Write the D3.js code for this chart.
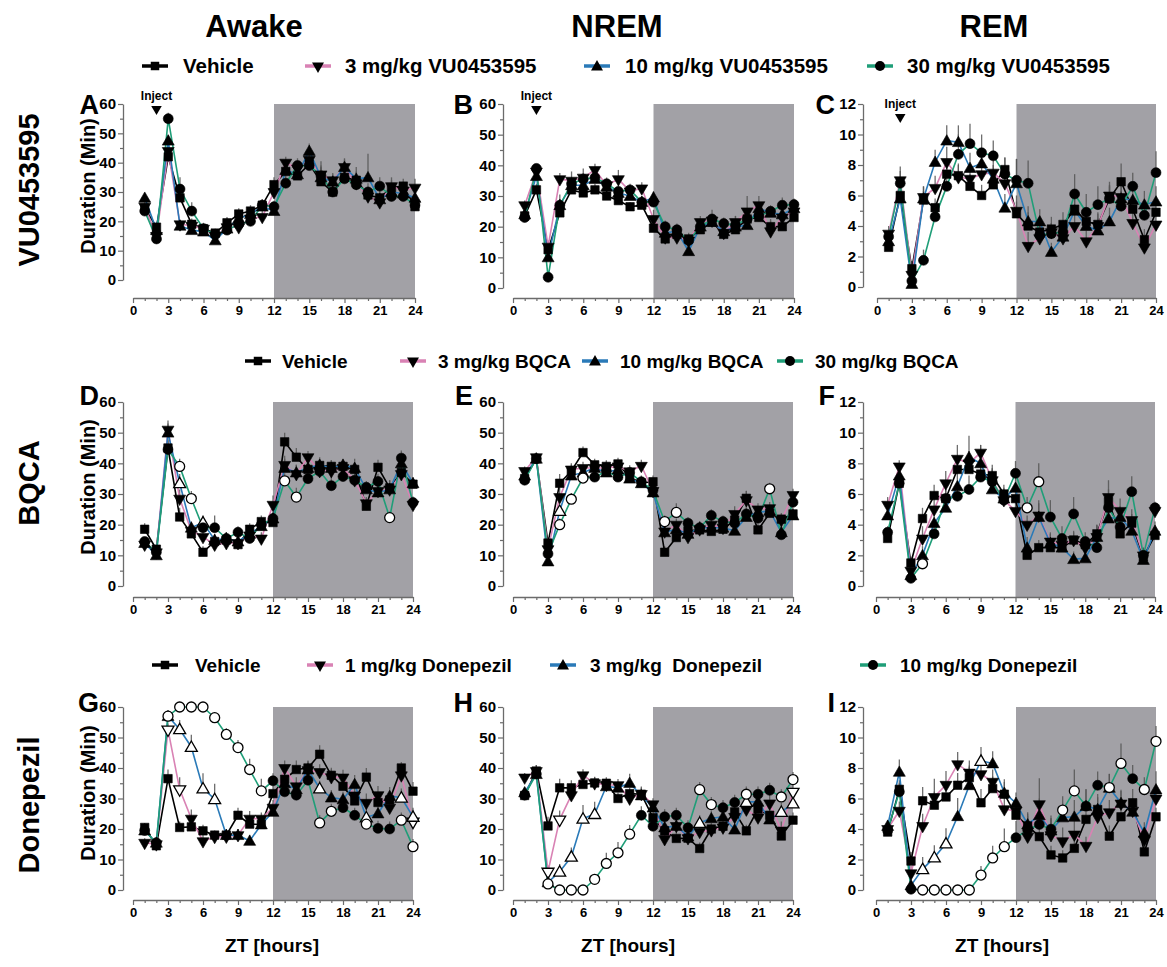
<!DOCTYPE html>
<html>
<head>
<meta charset="utf-8">
<script src="https://cdn.jsdelivr.net/npm/d3@7"></script>
<style>
  body { margin: 0; background: #fff; }
  svg { display: block; }
  text { font-family: "Liberation Sans", Arial, Helvetica, sans-serif; font-weight: bold; fill: #000; }
</style>
</head>
<body>
<svg id="chart" width="1167" height="967"></svg>
<script>
// ---------- labels ----------
const stateTitles = ["Awake", "NREM", "REM"];
const drugNames = ["VU0453595", "BQCA", "Donepezil"];
const legendVU = ["Vehicle", "3 mg/kg VU0453595", "10 mg/kg VU0453595", "30 mg/kg VU0453595"];
const legendBQCA = ["Vehicle", "3 mg/kg BQCA", "10 mg/kg BQCA", "30 mg/kg BQCA"];
const legendDon = ["Vehicle", "1 mg/kg Donepezil", "3 mg/kg  Donepezil", "10 mg/kg Donepezil"];
const panelLetters = ["A", "B", "C", "D", "E", "F", "G", "H", "I"];
const hours = [1,2,3,4,5,6,7,8,9,10,11,12,13,14,15,16,17,18,19,20,21,22,23,24];
const xTicks = [0,3,6,9,12,15,18,21,24];
const xMinorTicks = [1,2,4,5,7,8,10,11,13,14,16,17,19,20,22,23];
const yTicksMin = [0,10,20,30,40,50,60];
const yMinorMin = [5,15,25,35,45,55];
const yTicksRem = [0,2,4,6,8,10,12];
const yMinorRem = [1,3,5,7,9,11];
const darkPhase = [12, 24];
const injectHour = 2;

// ---------- A: VU0453595, Awake (min) ----------
const A_veh  = [24.5,18,42,28,19,17.5,16,19.5,22.5,23.5,25.5,32.5,37,35.5,39.5,33.5,30,35,34,29,28,31.5,32,25];
const A_low  = [25,15,44,19,18.5,17.5,15,18,18,21,21.5,30,40,38,41,36,34,38.5,33,28.5,26.5,32,30.5,31.5];
const A_mid  = [28,17,47.5,18.5,17,16.5,13.5,17.5,21,22.5,25,23.5,37.5,36,44,35,33.5,38.5,34.5,35,27.5,30,29.5,28];
const A_high = [23.5,14,55,31,23.5,17.5,15.5,17,19,20,25.5,25,33,39,39,35.5,30,34.5,32.5,30,32,28.5,28.5,25.5];
const A_vehErr  = [1.5,1.5,3,3,2,1.5,1.5,2,2,2,2,2.5,3,2.5,3,7,2.5,2.5,3,3,3,2.5,2.5,1.5];
const A_lowErr  = [1.5,1.5,3,1.5,1.5,1.5,1.5,3,2,2,2,2,2,2,2.5,3,2.5,2.5,2.5,2.5,3,3,3,3];
const A_midErr  = [1.5,1.5,2,1.5,1.5,1.5,1.5,1.5,1.5,2,2,2,3,2,2.5,3,2.5,3,4,8,3,2.5,2.5,2];
const A_highErr = [1.5,1.5,2,4,3,2,1.5,2,2,2,2,2,3,2.5,2.5,3,3,3,3,3,3,4,2.5,2];

// ---------- B: VU0453595, NREM (min) ----------
const B_veh  = [23.5,32,12.5,24.5,32,31,32,30,28.5,26.5,27,19.5,16,17.5,16,19,21.5,17.5,19,22.5,23,20,20,23];
const B_low  = [27,38,13.5,35.5,35,36,38.5,33.5,35.5,31.5,32.5,22.5,16.5,16.5,15.5,21.5,22,18,21.5,25,27,18.5,23,25];
const B_mid  = [24,36.5,10,27,33.5,33.5,35.5,33,31,30,28,29.5,18,18.5,12,20,21.5,18.5,20,20.5,26,24.5,24,26];
const B_high = [23,39,3.5,27,34,35.5,36,34,31.5,32,28,28,20,19,15.5,20,22.5,21,20.5,22.5,23.5,25,27,27.2];
const B_vehErr  = [1.5,2,2,2,2,2,2,1.5,1.5,1.5,2,2,2,2,2,2,2,2,2,2,2.5,2,2,2];
const B_lowErr  = [1.5,2,2,2,3,3,2,2,3,2,2,3,2,2,2,2,2,2,2,5,3,4,2,2];
const B_midErr  = [1.5,2,2,2,2,2,2,2,2,2,2,2,2,2,2,2,2,2,2,2,2,2,2,2];
const B_highErr = [1.5,1.5,2,3.5,2,2,2,2,2,2,2,3,2,2,2,2,3,2,3,2,3,2,2.5,2];

// ---------- C: VU0453595, REM (min) ----------
const C_veh  = [2.6,6.0,1.2,5.7,5.2,7.4,7.3,6.6,6.0,6.7,7.7,4.8,4.0,3.6,3.8,4.1,5.1,4.3,4.1,5.8,6.9,5.1,3.1,4.9];
const C_low  = [3.5,7.0,0.8,5.9,6.5,8.2,7.2,7.1,7.4,7.5,6.8,5.0,2.7,3.2,3.6,3.2,4.0,3.0,4.0,6.0,5.9,4.2,2.6,4.1];
const C_mid  = [3.0,5.8,0.2,5.8,8.2,9.6,9.5,7.8,8.1,7.1,5.2,6.8,4.3,4.3,2.3,3.3,5.0,4.0,3.7,4.3,5.8,5.7,5.4,5.6];
const C_high = [3.3,6.8,0.4,1.75,4.6,6.6,8.7,9.4,8.8,8.6,7.4,7.0,6.8,3.4,3.5,3.6,6.1,4.9,5.4,5.8,5.3,6.6,4.7,7.5];
const C_vehErr  = [0.5,0.8,0.5,0.6,0.6,0.7,0.7,0.8,0.7,0.7,0.8,0.8,0.9,0.8,0.8,0.8,0.9,0.8,0.8,0.8,1.2,0.8,0.7,0.7];
const C_lowErr  = [0.5,0.9,0.4,0.7,0.8,1.0,0.9,0.9,0.9,0.9,1.0,1.0,0.9,0.8,0.6,0.7,0.8,0.7,0.8,0.9,0.9,0.8,0.6,0.8];
const C_midErr  = [0.5,0.8,0.4,0.8,0.8,1.0,1.1,1.0,1.0,0.9,0.9,1.6,1.0,0.8,0.6,0.8,1.2,0.9,0.8,0.9,1.2,0.9,0.9,1.0];
const C_highErr = [0.5,0.8,0.3,0.7,0.8,1.2,1.3,1.3,1.2,1.0,1.1,1.4,1.5,0.9,0.7,0.8,1.3,1.2,1.2,0.9,1.0,0.9,0.8,1.4];

// ---------- D: BQCA, Awake (min) ----------
const D_veh  = [18.5,12,45,22.5,17,11,14.5,15,13.5,18.5,21,20.7,47,42,38,39.3,39,39,38,26,38.7,32,37,33.2];
const D_low  = [13.5,11,51,28.5,18,16,13.5,14,14,16.5,15.5,26.5,39.5,36.5,42,37.5,37.5,38.5,34.5,27,31,31.5,36.5,26.5];
const D_mid  = [14,10,50,33.5,19,20.7,15,15.5,14.5,17,19.5,22,38.5,37,38.5,39.5,38.5,39.5,38.5,31.5,30.5,31.5,40,33.5];
const D_high = [14.5,11,44.5,39,28.5,19,19,15.5,17.5,15.5,20,22,34.3,29,35,37.4,32.7,35.7,34.5,32.2,34.1,22.3,41.7,27.2];
const D_vehErr  = [2,1.5,3,3,2,2,2,2,2,2,2,2,3,3,2,2,2,2,2,2.5,2.5,2.5,2.5,2];
const D_lowErr  = [1.5,1.5,3,3,2,2,2,2,2,2,2,3,3,3,2,2,2,2,2,2,2,3,3,2];
const D_midErr  = [1.5,1.5,3,3,2,2,2,2,2,2,2,2,3,2.5,2,2.5,2.5,2,3,2,2,2,2,2];
const D_highErr = [1.5,1.5,3,2.5,2.5,4,4,2,2,2,2,2,2.5,3,2.5,2.5,3,2,3,2,2.5,2,2.5,2];
const D_midOpen = [4,6];
const D_highOpen = [4,5,13,14,22];

// ---------- E: BQCA, NREM (min) ----------
const E_veh  = [35,41.5,14,33.5,37.5,43.5,39.5,39,39.8,35.5,33.6,34,11,15.8,18,18.3,17.8,18.5,21.5,28.6,18.3,23.7,21.8,23.5];
const E_low  = [37.5,42,12,29,38,38.5,38.5,38.5,39,37.4,39.2,31,17.8,20,16,18.5,20,19,23.5,28,25,25.4,21.5,29.7];
const E_mid  = [36,41.5,8,24.5,36,37,38.5,37,38,35,33.5,30.5,17.5,18.5,17,19,19,19,18,22.5,24,24.5,17.5,23];
const E_high = [34.5,41.5,10.5,20,28.3,35.2,35.5,37.5,35.5,37,34,31.2,21,24,20.5,19,23,21,20.5,23.5,22.1,31.7,16.7,27.3];
const E_vehErr  = [1.5,1.5,2,3,2,2,2,2,2,2,2,2,2,2,2,2,2,2,2,2.5,2,2,2,2];
const E_lowErr  = [1.5,1.5,2,3,2,2,2,2,2,2,2,2,2,2,2,2,2,2,2.5,3,2,2,2,2];
const E_midErr  = [1.5,1.5,2,2,2,2,2,2,2,2,2,2,2,2,2,2,2,2,2,4,2,2,2,2];
const E_highErr = [1.5,1.5,2,2,2,2,2,2,2,2,2,2,2,3,2,2,2,2,2,2,2,2,2,2];
const E_midOpen = [4];
const E_highOpen = [4,5,6,13,14,22];

// ---------- F: BQCA, REM (min) ----------
const F_veh  = [3.1,6.7,1.5,4.4,5.9,5.7,7.6,7.6,7.3,7.2,6.0,5.7,2.0,2.5,2.5,2.5,3.0,2.7,3.4,5.5,3.4,4.1,1.9,3.3];
const F_low  = [5.3,7.8,1.0,3.1,5.0,6.7,8.3,8.0,8.7,6.9,5.6,4.9,4.0,4.6,2.9,2.7,3.0,2.5,3.2,5.8,4.9,4.3,2.0,4.9];
const F_mid  = [4.6,7.2,0.7,2.0,4.1,5.1,6.5,8.4,8.0,6.3,5.7,6.4,2.5,4.5,2.8,2.5,1.75,1.8,3.2,4.4,4.5,3.6,1.7,3.6];
const F_high = [3.5,6.7,0.5,1.45,3.4,5.7,5.85,6.3,7.1,6.8,5.6,7.35,5.1,6.8,4.5,3.1,4.7,2.9,2.5,5.1,3.85,6.15,2.0,5.1];
const F_vehErr  = [0.4,0.6,0.4,0.7,0.7,0.6,0.7,0.6,0.6,0.7,0.6,0.6,0.5,0.5,0.5,0.4,0.5,0.4,0.6,0.8,0.6,0.6,0.4,0.5];
const F_lowErr  = [0.5,0.4,0.4,0.8,0.8,0.8,0.9,0.8,0.5,0.8,0.8,0.8,0.6,1.0,0.6,0.5,0.6,0.5,0.7,1.1,0.8,0.7,0.5,0.5];
const F_midErr  = [0.4,0.6,0.3,0.6,0.6,0.7,0.9,1.4,1.2,0.8,0.6,0.7,0.7,0.9,0.6,0.5,0.5,0.5,0.8,0.9,0.7,0.6,0.4,0.6];
const F_highErr = [0.4,0.6,0.3,0.5,0.6,0.7,0.8,0.9,0.8,0.8,0.7,0.8,0.7,1.2,1.1,0.8,1.1,0.6,0.6,0.8,0.6,1.0,0.5,0.4];
const F_highOpen = [4,13,14];

// ---------- G: Donepezil, Awake (min) ----------
const G_veh  = [20.5,14.5,36.5,20.5,20.7,19.4,18,18,24.5,21.6,21.5,31.6,36.3,39.5,40,44.5,37.6,34,29.2,37,28.7,29.5,40,32.4];
const G_low  = [15.5,15,52.6,33,23.4,16,17.4,17.5,18,23.4,23.4,27,40,34,39.3,38.7,37,36.9,31,28.6,31.1,27,37.6,22.4];
const G_mid  = [19.5,15.5,57,52.7,46.9,33.3,29.8,18,18,16.1,21.5,25.6,35,33,39.5,33.3,30.3,29.7,34.7,23.8,25.1,30.8,30.3,24];
const G_high = [19.5,15.5,57,60,60,60,56.5,51,46.7,39.5,32.5,35.8,32.2,31.1,36,22,25.8,27,24.5,21.6,20.2,20,22.9,14.2];
const G_vehErr  = [1.5,1.5,3,2,2,2,1.5,2,2.5,2.5,3,3,3,3,2.5,3,2.5,3,3,3,3,3,2,3];
const G_lowErr  = [1.5,1.5,2,4,3,2,1.5,2,2,2.5,2,2.5,2.5,3,3,2.5,2.5,2.5,3,3,3,3,2.5,3];
const G_midErr  = [1.5,1.5,1.5,3,4,5,5,2,2,2,2,2,2.5,2.5,2.5,2.5,2.5,2.5,3,3,3,3,3,3];
const G_highErr = [1.5,1.5,1.5,0.3,0.3,0.5,1.5,2,2.5,3.5,4,2.5,2.5,2.5,3,2.5,2.5,2.5,2.5,2.5,2.5,2.5,2.5,2.5];
const G_lowOpen = [3,4,24];
const G_midOpen = [4,5,6,7,16,20,23,24];
const G_highOpen = [3,4,5,6,7,8,9,10,11,16,17,20,23,24];

// ---------- H: Donepezil, NREM (min) ----------
const H_veh  = [31,39,21,33.5,33.5,34.6,35.1,35,30,31.6,31.4,23.7,19.4,16.9,17,13.6,20,20.9,25.6,19.4,26.5,24.5,17.7,22.9];
const H_low  = [36.9,39,6,23.1,31.1,37.6,35,34.5,34.4,30,31.5,28.1,16.7,21,17,19.1,19.6,20.5,24,26.4,23.8,28.4,19.5,32.2];
const H_mid  = [32,38,2.5,6,10.9,23.4,24.9,34,33.5,35.1,31,27,20.5,21,17.5,22,23.5,24,19.8,28.9,28.9,23.1,25.6,28.4];
const H_high = [31.1,38,2,0,0,0,3.5,8.7,12.2,18.3,24.5,20.9,24,24.5,20.4,32.9,28,27,28.7,31.4,31.4,32.7,30.5,36.2];
const H_vehErr  = [1.5,2,3,3,2.5,2,2,2,2,2,2.5,2.5,2,2,2,2,2,2.5,3,2,3,3,2.5,2.5];
const H_lowErr  = [1.5,2,2,3,3,2,2,2,2,2,2,2,2,2,2,2,2,2,3,3,3,3,3,3];
const H_midErr  = [1.5,2,2,2.5,3,4.5,4,2,2,3,2,2,2,2,2,2.5,2.5,2.5,2.5,3,3,3,3,3];
const H_highErr = [1.5,2,1,0.3,0.3,0.3,1.5,3.5,3.5,3,3,2.5,2.5,2.5,2.5,2.5,2.5,2.5,2.5,2.5,2.5,2.5,2.5,2.5];
const H_lowOpen = [3,4,24];
const H_midOpen = [4,5,6,7,16,20,23,24];
const H_highOpen = [3,4,5,6,7,8,9,10,16,17,20,23,24];

// ---------- I: Donepezil, REM (min) ----------
const I_veh  = [3.8,6.6,1.9,5.85,5.56,6.1,6.87,7.37,5.72,6.65,6.28,4.9,4.2,3.5,2.3,2.1,2.73,4.63,5.28,3.53,4.8,5.72,2.5,4.8];
const I_low  = [4.0,5.2,1.1,4.2,6.1,6.9,8.25,7.7,7.6,7.1,5.3,5.2,3.5,5.63,3.6,3.2,3.64,2.9,4.8,5.1,5.67,5.2,3.3,6.0];
const I_mid  = [4.2,7.75,0.3,1.37,2.14,3.05,4.84,6.87,8.47,8.3,6.37,5.7,4.3,4.9,3.9,4.76,4.8,5.5,5.3,6.7,5.7,5.13,3.75,6.59];
const I_high = [3.9,6.44,0.05,0,0,0,0,0,0.98,2.1,2.84,3.43,3.93,4.3,3.99,5.24,6.5,5.5,6.87,6.72,8.3,7.3,6.59,9.75];
const I_vehErr  = [0.3,0.6,0.6,0.9,0.9,0.8,0.8,0.8,0.9,0.8,0.8,0.8,0.8,0.7,0.6,0.5,0.6,0.9,0.8,0.7,0.8,0.9,0.5,0.6];
const I_lowErr  = [0.4,0.6,0.5,0.8,1.2,0.9,0.8,0.8,0.9,0.8,1.0,0.9,0.8,1.7,1.1,0.9,0.9,0.6,0.8,0.8,0.9,0.8,0.8,0.8];
const I_midErr  = [0.4,0.8,0.3,0.8,0.8,1.0,1.2,1.2,0.9,0.8,0.9,0.7,0.8,1.1,0.8,0.9,1.1,1.1,1.0,0.9,0.8,0.8,0.7,1.2];
const I_highErr = [0.4,0.6,0.1,0.05,0.05,0.05,0.05,0.05,0.6,0.8,1.2,1.1,0.9,0.9,0.9,0.9,1.4,1.1,0.9,0.9,1.3,0.9,0.8,1.0];
const I_midOpen = [4,5,6,9];
const I_highOpen = [4,5,6,7,8,9,10,11,16,17,20,21,23,24];

// ---------- styling ----------
const seriesColors = ["#000000", "#d982b4", "#2a7ab8", "#1f9e78"];
const seriesShapes = ["square", "down", "up", "circle"];
const darkFill = "#a2a1a6";
const axisColor = "#6b6b6b";

function markerPath(shape) {
  if (shape === "square") return d3.symbol(d3.symbolSquare, 72)();
  if (shape === "circle") return d3.symbol(d3.symbolCircle, 78)();
  return d3.symbol(d3.symbolTriangle, 62)();
}
function markerTransform(shape, px, py) {
  if (shape === "down") return `translate(${px},${py}) rotate(180)`;
  if (shape === "up") return `translate(${px},${py + 1})`;
  return `translate(${px},${py})`;
}

// ---------- panel frames (pixel geometry) ----------
const colFrames = [
  { ax: 123, x0: 133, letterRight: 99 },
  { ax: 503, x0: 513, letterRight: 473 },
  { ax: 863, x0: 876, letterRight: 835 }
];
const rowFrames = [
  { yTop: 104, axisY: 298, letterBase: 114 },
  { yTop: 402, axisY: 597, letterBase: 405 },
  { yTop: 707, axisY: 900, letterBase: 712 }
];
const frameOverrides = {
  A: { x1: 415, yBot: 280 }, B: { x1: 794, yBot: 288 }, C: { x1: 1156, x0: 877, yBot: 287 },
  D: { x1: 413, yBot: 586 }, E: { x1: 793, yBot: 586 }, F: { x1: 1155, yBot: 586 },
  G: { x1: 413, yBot: 890 }, H: { x1: 793, yBot: 890 }, I: { x1: 1156, yBot: 890 }
};

const panelSeries = {
  A: { vals: [A_veh, A_low, A_mid, A_high], errs: [A_vehErr, A_lowErr, A_midErr, A_highErr], open: [[], [], [], []] },
  B: { vals: [B_veh, B_low, B_mid, B_high], errs: [B_vehErr, B_lowErr, B_midErr, B_highErr], open: [[], [], [], []] },
  C: { vals: [C_veh, C_low, C_mid, C_high], errs: [C_vehErr, C_lowErr, C_midErr, C_highErr], open: [[], [], [], []] },
  D: { vals: [D_veh, D_low, D_mid, D_high], errs: [D_vehErr, D_lowErr, D_midErr, D_highErr], open: [[], [], D_midOpen, D_highOpen] },
  E: { vals: [E_veh, E_low, E_mid, E_high], errs: [E_vehErr, E_lowErr, E_midErr, E_highErr], open: [[], [], E_midOpen, E_highOpen] },
  F: { vals: [F_veh, F_low, F_mid, F_high], errs: [F_vehErr, F_lowErr, F_midErr, F_highErr], open: [[], [], [], F_highOpen] },
  G: { vals: [G_veh, G_low, G_mid, G_high], errs: [G_vehErr, G_lowErr, G_midErr, G_highErr], open: [[], G_lowOpen, G_midOpen, G_highOpen] },
  H: { vals: [H_veh, H_low, H_mid, H_high], errs: [H_vehErr, H_lowErr, H_midErr, H_highErr], open: [[], H_lowOpen, H_midOpen, H_highOpen] },
  I: { vals: [I_veh, I_low, I_mid, I_high], errs: [I_vehErr, I_lowErr, I_midErr, I_highErr], open: [[], [], I_midOpen, I_highOpen] }
};

const svg = d3.select("#chart");

function drawPanel(letter, row, col) {
  const cf = colFrames[col], rf = rowFrames[row], ov = frameOverrides[letter];
  const isRem = col === 2;
  const yMax = isRem ? 12 : 60;
  const x = d3.scaleLinear().domain([0, 24]).range([ov.x0 ?? cf.x0, ov.x1]);
  const y = d3.scaleLinear().domain([0, yMax]).range([ov.yBot, rf.yTop]);
  const g = svg.append("g").attr("class", "panel-" + letter);

  // dark phase shading
  g.append("rect")
    .attr("x", x(darkPhase[0])).attr("y", rf.yTop)
    .attr("width", x(darkPhase[1]) - x(darkPhase[0]))
    .attr("height", rf.axisY - rf.yTop)
    .attr("fill", darkFill);

  // y axis
  const yMajor = g.append("g").attr("transform", `translate(${cf.ax},0)`)
    .call(d3.axisLeft(y).tickValues(isRem ? yTicksRem : yTicksMin).tickSize(5).tickSizeOuter(0).tickPadding(2));
  g.append("g").attr("transform", `translate(${cf.ax},0)`)
    .call(d3.axisLeft(y).tickValues(isRem ? yMinorRem : yMinorMin).tickSize(3).tickFormat(""))
    .select(".domain").remove();
  yMajor.selectAll("text").style("font-size", "15px").style("font-weight", "bold")
    .style("font-family", '"Liberation Sans", Arial, sans-serif').attr("fill", "#000");

  // x axis
  const xMajor = g.append("g").attr("transform", `translate(0,${rf.axisY})`)
    .call(d3.axisBottom(x).tickValues(xTicks).tickSize(5).tickSizeOuter(0).tickPadding(3));
  g.append("g").attr("transform", `translate(0,${rf.axisY})`)
    .call(d3.axisBottom(x).tickValues(xMinorTicks).tickSize(3).tickFormat(""))
    .select(".domain").remove();
  xMajor.selectAll("text").style("font-size", "13px").style("font-weight", "bold")
    .style("font-family", '"Liberation Sans", Arial, sans-serif').attr("fill", "#000");

  g.selectAll(".domain").attr("stroke", axisColor).attr("stroke-width", 1.3);
  g.selectAll(".tick line").attr("stroke", axisColor).attr("stroke-width", 1.2);

  const sd = panelSeries[letter];

  // error bars (upper SEM)
  sd.vals.forEach((vals, si) => {
    g.append("g").selectAll("line").data(hours).join("line")
      .attr("x1", (h) => x(h)).attr("x2", (h) => x(h))
      .attr("y1", (h, i) => y(vals[i])).attr("y2", (h, i) => y(Math.min(vals[i] + sd.errs[si][i], yMax + 1)))
      .attr("stroke", "#555").attr("stroke-width", 1.3).attr("opacity", 0.85);
  });

  // lines
  const line = d3.line().x((d) => x(d[0])).y((d) => y(d[1]));
  sd.vals.forEach((vals, si) => {
    g.append("path").datum(hours.map((h, i) => [h, vals[i]]))
      .attr("d", line).attr("fill", "none")
      .attr("stroke", seriesColors[si]).attr("stroke-width", 1.6);
  });

  // markers
  sd.vals.forEach((vals, si) => {
    const shape = seriesShapes[si];
    const open = new Set(sd.open[si]);
    g.append("g").selectAll("path").data(hours).join("path")
      .attr("d", markerPath(shape))
      .attr("transform", (h, i) => markerTransform(shape, x(h), y(vals[i])))
      .attr("fill", (h) => open.has(h) ? "#fff" : "#000")
      .attr("stroke", "#000").attr("stroke-width", (h) => open.has(h) ? 1.3 : 0.6);
  });

  // panel letter
  svg.append("text").attr("x", cf.letterRight).attr("y", rf.letterBase)
    .attr("text-anchor", "end").style("font-size", "27px").text(letter);

  // injection marker on the top row
  if (row === 0) {
    const ix = x(injectHour);
    const base = letter === "C" ? 108 : 100;
    svg.append("text").attr("x", ix).attr("y", base).attr("text-anchor", "middle")
      .style("font-size", "12px").text("Inject");
    svg.append("path").attr("d", d3.symbol(d3.symbolTriangle, 48)())
      .attr("transform", `translate(${ix},${base + 9}) rotate(180)`).attr("fill", "#000");
  }
  return { x, y };
}

const letterGrid = [["A", "B", "C"], ["D", "E", "F"], ["G", "H", "I"]];
letterGrid.forEach((r, ri) => r.forEach((L, ci) => drawPanel(L, ri, ci)));

// column titles
const titleX = [254, 617, 994];
stateTitles.forEach((t, i) => {
  svg.append("text").attr("x", titleX[i]).attr("y", 37).attr("text-anchor", "middle")
    .style("font-size", "31px").text(t);
});

// row (drug) titles
const rowTitleY = [190, 483, 805];
drugNames.forEach((t, i) => {
  svg.append("text").attr("transform", `translate(39,${rowTitleY[i]}) rotate(-90)`)
    .attr("text-anchor", "middle").style("font-size", "29px").text(t);
});

// y axis titles on the left column
const yTitleY = [186, 487, 793];
yTitleY.forEach((cy) => {
  svg.append("text").attr("transform", `translate(95,${cy}) rotate(-90)`)
    .attr("text-anchor", "middle").style("font-size", "20px").text("Duration (Min)");
});

// x axis titles
const xTitleX = [272, 628, 1002];
xTitleX.forEach((cx) => {
  svg.append("text").attr("x", cx).attr("y", 952).attr("text-anchor", "middle")
    .style("font-size", "19px").text("ZT [hours]");
});

// legends
const legendRows = [
  { labels: legendVU,   y: 66,  size: 20.5, marks: [155, 318, 597, 880], texts: [183, 345, 625, 907] },
  { labels: legendBQCA, y: 361, size: 19,   marks: [258, 413, 595, 790], texts: [282, 438, 620, 815] },
  { labels: legendDon,  y: 665, size: 19,   marks: [165, 320, 563, 873], texts: [195, 345, 590, 900] }
];
legendRows.forEach((lr) => {
  lr.labels.forEach((lab, si) => {
    const mx = lr.marks[si];
    svg.append("line").attr("x1", mx - 13).attr("x2", mx + 13).attr("y1", lr.y).attr("y2", lr.y)
      .attr("stroke", seriesColors[si]).attr("stroke-width", 3.5);
    svg.append("path").attr("d", markerPath(seriesShapes[si]))
      .attr("transform", markerTransform(seriesShapes[si], mx, lr.y)).attr("fill", "#000");
    svg.append("text").attr("x", lr.texts[si]).attr("y", lr.y + 7)
      .style("font-size", lr.size + "px").attr("xml:space", "preserve").style("white-space", "pre").text(lab);
  });
});
</script>
</body>
</html>
